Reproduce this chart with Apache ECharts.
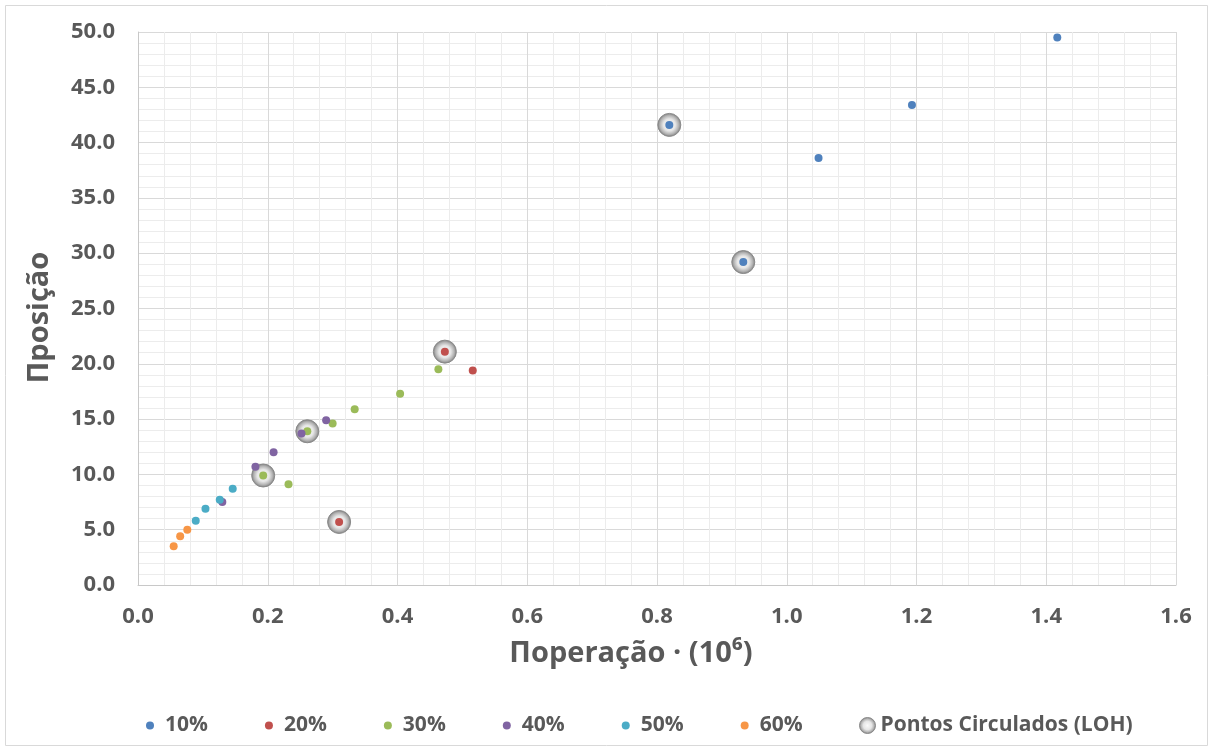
<!DOCTYPE html>
<html>
<head>
<meta charset="utf-8">
<script src="https://cdn.jsdelivr.net/npm/echarts@6/dist/echarts.min.js"></script>
<style>
  html, body { margin: 0; padding: 0; background: #ffffff; }
  #chart { width: 1214px; height: 751px; }
</style>
</head>
<body>
<div id="chart"></div>
<script>
// Series values: [Πoperação (10^6), Πposição]
const seriesNames = ['10%', '20%', '30%', '40%', '50%', '60%'];
const circledName = 'Pontos Circulados (LOH)';

const pts10 = [[1.417, 49.5], [1.193, 43.4], [1.049, 38.6], [0.819, 41.6], [0.933, 29.2]];
const pts20 = [[0.473, 21.1], [0.516, 19.4], [0.310, 5.7]];
const pts30 = [[0.463, 19.5], [0.404, 17.3], [0.334, 15.9], [0.300, 14.6], [0.261, 13.9], [0.193, 9.9], [0.232, 9.1]];
const pts40 = [[0.290, 14.9], [0.252, 13.7], [0.209, 12.0], [0.181, 10.7], [0.130, 7.5]];
const pts50 = [[0.146, 8.7], [0.126, 7.7], [0.104, 6.9], [0.089, 5.8]];
const pts60 = [[0.076, 5.0], [0.065, 4.4], [0.055, 3.5]];

// Points highlighted with a ring (LOH)
const circledPoints = [[0.819, 41.6], [0.933, 29.2], [0.473, 21.1], [0.261, 13.9], [0.193, 9.9], [0.310, 5.7]];

const seriesData = [pts10, pts20, pts30, pts40, pts50, pts60];
const colors = ['#4F81BD', '#C0504D', '#9BBB59', '#8064A2', '#4BACC6', '#F79646'];

const xTicks = { min: 0, max: 1.6, interval: 0.2 };
const yTicks = { min: 0, max: 50, interval: 5 };

const FONT = '"Open Sans", "Noto Sans", sans-serif';
const TEXT = '#595959';

const ringFill = new echarts.graphic.RadialGradient(0.5, 0.5, 0.5, [
  { offset: 0, color: '#fafafa' },
  { offset: 0.5, color: '#e6e6e6' },
  { offset: 0.78, color: '#b3b3b3' },
  { offset: 1, color: '#7a7a7a' }
]);

const chart = echarts.init(document.getElementById('chart'), null, { renderer: 'canvas' });

const series = [{
  name: circledName,
  type: 'scatter',
  z: 1,
  symbol: 'circle',
  symbolSize: 23,
  data: circledPoints,
  itemStyle: { color: ringFill, borderColor: '#8a8a8a', borderWidth: 1, opacity: 1 },
  emphasis: { disabled: true }
}].concat(seriesNames.map((n, i) => ({
  name: n,
  type: 'scatter',
  z: 3,
  symbol: 'circle',
  symbolSize: 8,
  data: seriesData[i],
  itemStyle: { color: colors[i], opacity: 1 },
  emphasis: { disabled: true }
})));

chart.setOption({
  animation: false,
  backgroundColor: '#ffffff',
  color: colors,
  textStyle: { fontFamily: FONT },
  graphic: [{
    type: 'rect',
    shape: { x: 5.5, y: 5.5, width: 1202, height: 740 },
    style: { fill: 'none', stroke: '#d9d9d9', lineWidth: 1 },
    silent: true, z: -10
  }],
  grid: { left: 138, right: 38, top: 32, bottom: 166, containLabel: false },
  xAxis: {
    type: 'value',
    min: xTicks.min, max: xTicks.max, interval: xTicks.interval,
    name: 'Πoperação · (10⁶)',
    nameLocation: 'middle',
    nameGap: 54,
    nameTextStyle: { fontFamily: FONT, fontWeight: 'bold', fontSize: 29, color: TEXT, padding: [0, 52, 0, 0] },
    axisLine: { show: true, lineStyle: { color: '#c8c8c8', width: 1 } },
    axisTick: { show: false },
    axisLabel: {
      margin: 21, fontFamily: FONT, fontWeight: 'bold', fontSize: 22, color: TEXT,
      formatter: v => v.toFixed(1)
    },
    splitLine: { show: true, lineStyle: { color: '#d9d9d9', width: 1 } },
    minorTick: { show: false, splitNumber: 5 },
    minorSplitLine: { show: true, lineStyle: { color: '#ececec', width: 1 } }
  },
  yAxis: {
    type: 'value',
    min: yTicks.min, max: yTicks.max, interval: yTicks.interval,
    name: 'Πposição',
    nameLocation: 'middle',
    nameGap: 84,
    nameTextStyle: { fontFamily: FONT, fontWeight: 'bold', fontSize: 29, color: TEXT, padding: [0, 18, 0, 0] },
    axisLine: { show: true, lineStyle: { color: '#c8c8c8', width: 1 } },
    axisTick: { show: false },
    axisLabel: {
      margin: 23, fontFamily: FONT, fontWeight: 'bold', fontSize: 22, color: TEXT,
      formatter: v => v.toFixed(1)
    },
    splitLine: { show: true, lineStyle: { color: '#d9d9d9', width: 1 } },
    minorTick: { show: false, splitNumber: 5 },
    minorSplitLine: { show: true, lineStyle: { color: '#ececec', width: 1 } }
  },
  legend: [{
    data: seriesNames,
    left: 141, top: 710,
    orient: 'horizontal',
    icon: 'circle',
    itemWidth: 8, itemHeight: 8,
    itemGap: 57,
    selectedMode: false,
    textStyle: { fontFamily: FONT, fontWeight: 'bold', fontSize: 21, color: TEXT, padding: [0, 0, 0, 6] }
  }, {
    data: [circledName],
    left: 854, top: 710,
    icon: 'circle',
    itemWidth: 16, itemHeight: 16,
    selectedMode: false,
    itemStyle: { borderColor: '#8a8a8a', borderWidth: 1 },
    textStyle: { fontFamily: FONT, fontWeight: 'bold', fontSize: 21, color: TEXT, padding: [0, 0, 0, 0] }
  }],
  series: series
});
</script>
</body>
</html>
